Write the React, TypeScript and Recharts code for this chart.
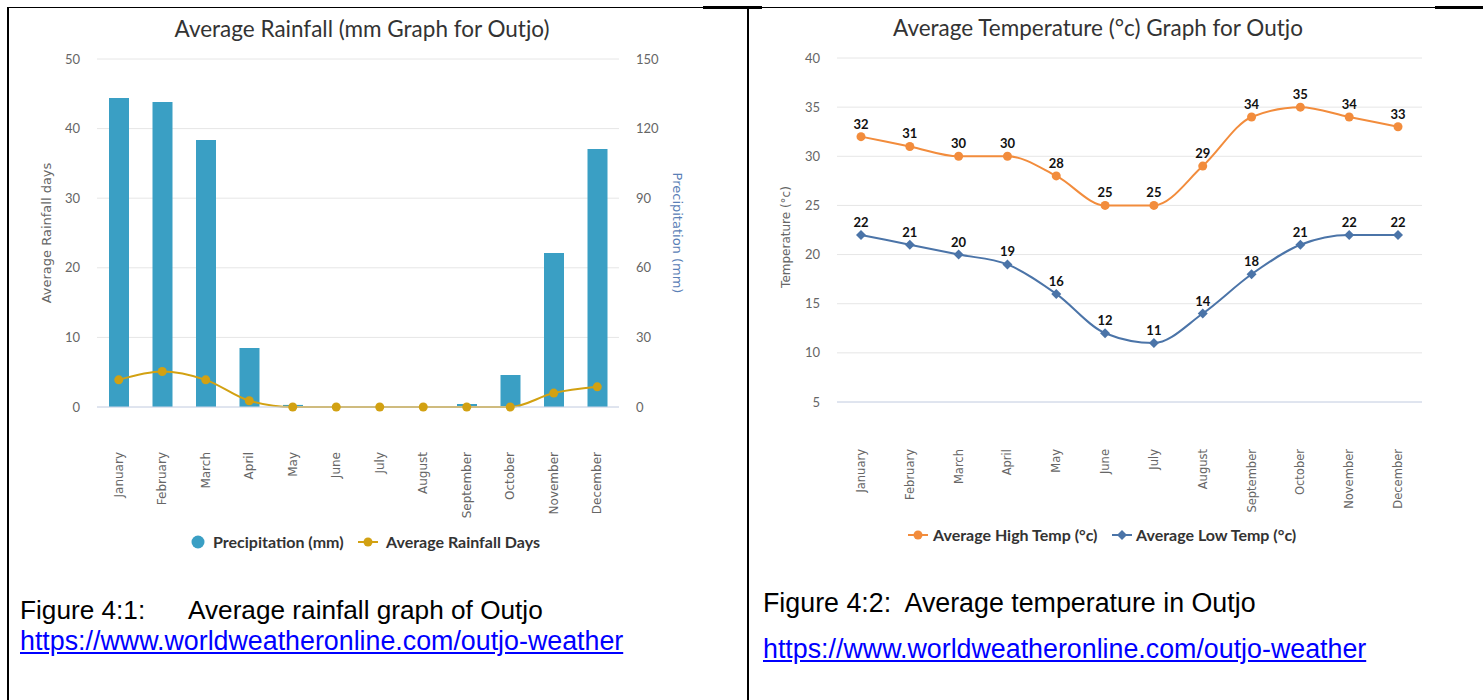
import React from 'react'
import { ComposedChart, Bar, Line, XAxis, YAxis, CartesianGrid, LabelList } from 'recharts'

// months shared by both charts
const months = [
  'January', 'February', 'March', 'April', 'May', 'June',
  'July', 'August', 'September', 'October', 'November', 'December',
]

// rainfall chart
const precipitationMm = [133.2, 131.5, 115.1, 25.4, 0.9, 0, 0, 0, 1.3, 13.8, 66.4, 111.2]
const rainfallDays = [3.9, 5.1, 3.9, 0.9, 0, 0, 0, 0, 0, 0, 2.0, 2.9]
const daysTicks = [0, 10, 20, 30, 40, 50]
const mmTicks = [0, 30, 60, 90, 120, 150]

// temperature chart
const highTemp = [32, 31, 30, 30, 28, 25, 25, 29, 34, 35, 34, 33]
const lowTemp = [22, 21, 20, 19, 16, 12, 11, 14, 18, 21, 22, 22]
const tempTicks = [5, 10, 15, 20, 25, 30, 35, 40]

const BAR_BLUE = '#3a9fc4'
const GOLD = '#d2a112'
const ORANGE = '#f28c3c'
const NAVY = '#4b74a8'

const rainData = months.map((month, i) => ({
  month,
  mm: precipitationMm[i],
  days: rainfallDays[i],
}))

const tempData = months.map((month, i) => ({
  month,
  high: highTemp[i],
  low: lowTemp[i],
}))

const chartFont = 'Lato, "Open Sans", sans-serif'
const captionFont = '"Liberation Sans", Arial, sans-serif'

function MonthTick({ x, y, payload, gap, size }: any) {
  const ty = y + gap
  return (
    <text
      x={x}
      y={ty}
      transform={`rotate(-90, ${x}, ${ty})`}
      textAnchor="end"
      dy="0.35em"
      fontSize={size}
      fill="#666"
      fontFamily='"DejaVu Sans", sans-serif'
    >
      {payload.value}
    </text>
  )
}

function Diamond(props: any) {
  const { cx, cy } = props
  if (cx == null || cy == null) return null
  const r = 5
  return (
    <path
      d={`M${cx},${cy - r}L${cx + r},${cy}L${cx},${cy + r}L${cx - r},${cy}Z`}
      fill={NAVY}
    />
  )
}

function RotatedText({ text, cx, cy, angle, color, size }: any) {
  return (
    <div
      style={{
        position: 'absolute',
        left: cx,
        top: cy,
        transform: `translate(-50%, -50%) rotate(${angle}deg)`,
        whiteSpace: 'nowrap',
        fontFamily: '"DejaVu Sans", sans-serif',
        fontSize: size,
        color,
        lineHeight: 1,
      }}
    >
      {text}
    </div>
  )
}

function Title({ text, cx, cy }: any) {
  return (
    <div
      style={{
        position: 'absolute',
        left: cx,
        top: cy,
        transform: 'translate(-50%, -50%)',
        whiteSpace: 'nowrap',
        fontFamily: chartFont,
        fontSize: 22.5,
        color: '#333',
        lineHeight: 1,
      }}
    >
      {text}
    </div>
  )
}

function LegendSymbol({ kind, color, left, cy }: any) {
  return (
    <svg
      width={22}
      height={14}
      style={{ position: 'absolute', left, top: cy - 7 }}
    >
      {kind === 'circle' && <circle cx={7} cy={7} r={6.5} fill={color} />}
      {kind !== 'circle' && <line x1={1} y1={7} x2={21} y2={7} stroke={color} strokeWidth={2} />}
      {kind === 'lineDot' && <circle cx={11} cy={7} r={4.5} fill={color} />}
      {kind === 'lineDiamond' && <path d="M11,2L16,7L11,12L6,7Z" fill={color} />}
    </svg>
  )
}

function LegendLabel({ text, left, cy }: any) {
  return (
    <div
      style={{
        position: 'absolute',
        left,
        top: cy,
        transform: 'translateY(-50%)',
        whiteSpace: 'nowrap',
        fontFamily: chartFont,
        fontWeight: 'bold',
        fontSize: 16,
        color: '#333',
        lineHeight: 1,
      }}
    >
      {text}
    </div>
  )
}

function Caption({ left, top, children, link, size }: any) {
  return (
    <div
      style={{
        position: 'absolute',
        left,
        top,
        whiteSpace: 'pre',
        fontFamily: captionFont,
        fontSize: size,
        lineHeight: 1,
        color: link ? '#0000ff' : '#000',
        textDecoration: link ? 'underline' : 'none',
      }}
    >
      {children}
    </div>
  )
}

function Rule({ left, top, width, height }: any) {
  return <div style={{ position: 'absolute', left, top, width, height, background: '#000' }} />
}

export default function App() {
  return (
    <div
      style={{
        position: 'absolute',
        left: 0,
        top: 0,
        width: 1483,
        height: 700,
        background: '#fff',
        overflow: 'hidden',
      }}
    >
      {/* table borders */}
      <Rule left={7} top={7} width={1476} height={1} />
      <Rule left={703} top={6} width={59} height={3} />
      <Rule left={1435} top={6} width={48} height={3} />
      <Rule left={7} top={7} width={2} height={693} />
      <Rule left={747} top={7} width={2} height={693} />

      {/* rainfall chart */}
      <div style={{ position: 'absolute', left: 0, top: 0 }}>
        <ComposedChart
          width={750}
          height={530}
          data={rainData}
          margin={{ top: 59, right: 91, bottom: 23, left: 57 }}
        >
          <CartesianGrid yAxisId="days" vertical={false} stroke="#e6e6e6" />
          <XAxis
            dataKey="month"
            interval={0}
            height={100}
            tickSize={0}
            tickLine={false}
            axisLine={{ stroke: '#ccd6eb' }}
            tick={(p: any) => <MonthTick {...p} gap={43} size={12} />}
          />
          <YAxis
            yAxisId="days"
            domain={[0, 50]}
            ticks={daysTicks}
            width={40}
            axisLine={false}
            tickLine={false}
            tickSize={0}
            tickMargin={17}
            tick={{ fontSize: 13, fill: '#666', fontFamily: chartFont }}
          />
          <YAxis
            yAxisId="mm"
            orientation="right"
            domain={[0, 150]}
            ticks={mmTicks}
            width={40}
            axisLine={false}
            tickLine={false}
            tickSize={0}
            tickMargin={17}
            tick={{ fontSize: 13, fill: '#666', fontFamily: chartFont }}
          />
          <Bar yAxisId="mm" dataKey="mm" fill={BAR_BLUE} barSize={20} isAnimationActive={false} />
          <Line
            yAxisId="days"
            type="monotone"
            dataKey="days"
            stroke={GOLD}
            strokeWidth={2}
            dot={{ r: 4.5, fill: GOLD, stroke: GOLD, strokeWidth: 0 }}
            isAnimationActive={false}
          />
        </ComposedChart>
      </div>
      <Title text="Average Rainfall (mm Graph for Outjo)" cx={362} cy={29} />
      <RotatedText text="Average Rainfall days" cx={46} cy={233} angle={-90} color="#666" size={13} />
      <RotatedText text="Precipitation (mm)" cx={677} cy={233} angle={90} color="#5a80b6" size={13} />
      <LegendSymbol kind="circle" color={BAR_BLUE} left={191} cy={542} />
      <LegendLabel text="Precipitation (mm)" left={213} cy={542} />
      <LegendSymbol kind="lineDot" color={GOLD} left={357} cy={542} />
      <LegendLabel text="Average Rainfall Days" left={386} cy={542} />
      <Caption left={20} top={597} size={26.2}>Figure 4:1:</Caption>
      <Caption left={188} top={597} size={26.2}>Average rainfall graph of Outjo</Caption>
      <Caption left={20} top={628} size={26.8} link>https://www.worldweatheronline.com/outjo-weather</Caption>

      {/* temperature chart */}
      <div style={{ position: 'absolute', left: 750, top: 0 }}>
        <ComposedChart
          width={733}
          height={530}
          data={tempData}
          margin={{ top: 58, right: 61, bottom: 28, left: 47 }}
        >
          <CartesianGrid vertical={false} stroke="#e6e6e6" />
          <XAxis
            dataKey="month"
            interval={0}
            height={100}
            padding={{ left: 24, right: 24 }}
            tickSize={0}
            tickLine={false}
            axisLine={{ stroke: '#ccd6eb' }}
            tick={(p: any) => <MonthTick {...p} gap={45} size={11.5} />}
          />
          <YAxis
            domain={[5, 40]}
            ticks={tempTicks}
            width={40}
            axisLine={false}
            tickLine={false}
            tickSize={0}
            tickMargin={17}
            tick={{ fontSize: 13, fill: '#666', fontFamily: chartFont }}
          />
          <Line
            type="monotone"
            dataKey="high"
            stroke={ORANGE}
            strokeWidth={2}
            dot={{ r: 4.5, fill: ORANGE, stroke: ORANGE, strokeWidth: 0 }}
            isAnimationActive={false}
          >
            <LabelList
              dataKey="high"
              position="top"
              offset={8}
              fontSize={13}
              fontWeight="bold"
              fill="#111"
              fontFamily={chartFont}
            />
          </Line>
          <Line
            type="monotone"
            dataKey="low"
            stroke={NAVY}
            strokeWidth={2}
            dot={<Diamond />}
            isAnimationActive={false}
          >
            <LabelList
              dataKey="low"
              position="top"
              offset={8}
              fontSize={13}
              fontWeight="bold"
              fill="#111"
              fontFamily={chartFont}
            />
          </Line>
        </ComposedChart>
      </div>
      <Title text="Average Temperature (°c) Graph for Outjo" cx={1098} cy={28} />
      <RotatedText text="Temperature (°c)" cx={786} cy={237} angle={-90} color="#666" size={12} />
      <LegendSymbol kind="lineDot" color={ORANGE} left={907} cy={535} />
      <LegendLabel text="Average High Temp (°c)" left={933} cy={535} />
      <LegendSymbol kind="lineDiamond" color={NAVY} left={1111} cy={535} />
      <LegendLabel text="Average Low Temp (°c)" left={1136} cy={535} />
      <Caption left={763} top={590} size={26.8}>Figure 4:2:  Average temperature in Outjo</Caption>
      <Caption left={763} top={636} size={26.8} link>https://www.worldweatheronline.com/outjo-weather</Caption>
    </div>
  )
}
